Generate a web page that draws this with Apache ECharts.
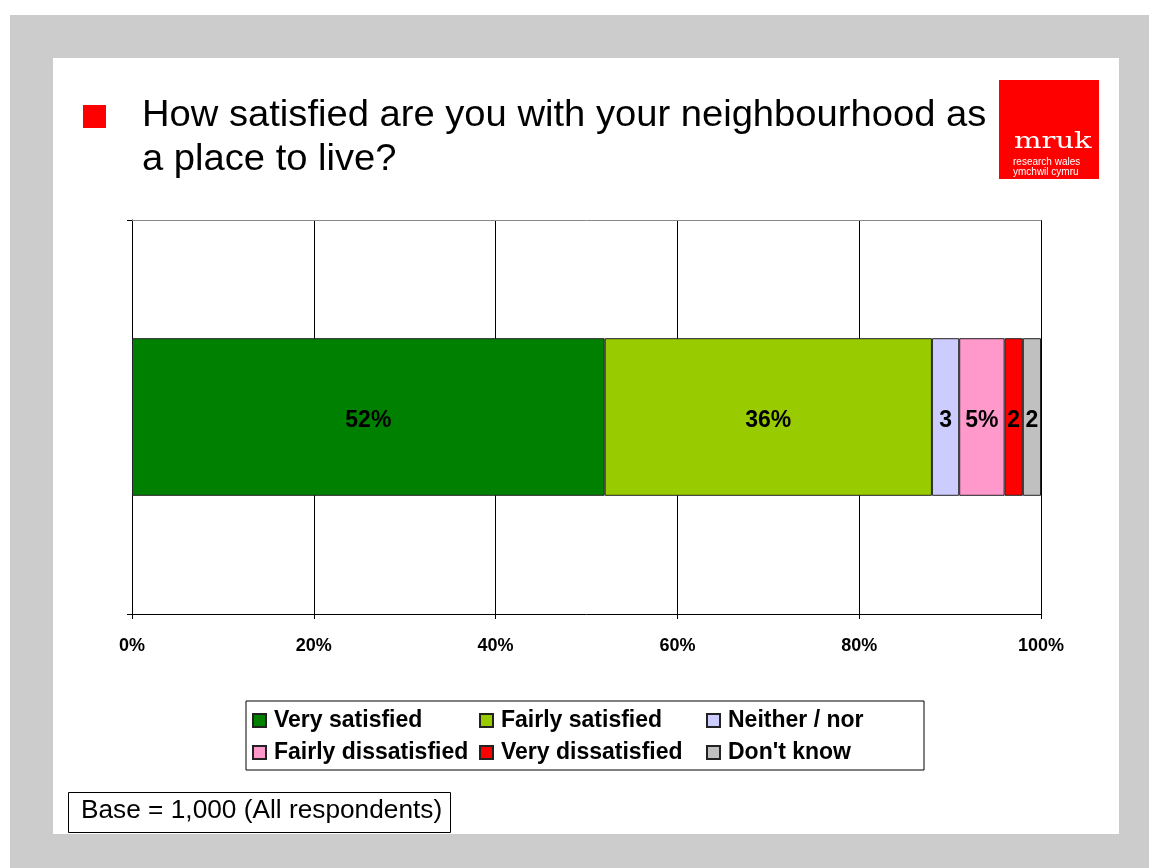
<!DOCTYPE html>
<html>
<head>
<meta charset="utf-8">
<title>Neighbourhood satisfaction</title>
<script src="https://cdn.jsdelivr.net/npm/echarts@6/dist/echarts.min.js"></script>
<style>
  html, body { margin: 0; padding: 0; background: #ffffff; }
  #chart { width: 1149px; height: 868px; }
</style>
</head>
<body>
<div id="chart"></div>
<script>
// Survey answers, in stacking order (left to right)
const answerNames = ['Very satisfied', 'Fairly satisfied', 'Neither / nor',
                     'Fairly dissatisfied', 'Very dissatisfied', "Don't know"];
const answerShares = [52, 36, 3, 5, 2, 2];
const labelSuffixes = ['%', '%', '', '%', '', ''];
const answerColors = ['#008000', '#99CC00', '#CCCCFF', '#FF99CC', '#FF0000', '#C0C0C0'];
const categories = [''];
const axisTicks = [0, 20, 40, 60, 80, 100];

const FONT = '"Liberation Sans", Arial, sans-serif';

const series = answerNames.map((name, i) => ({
  name: name,
  type: 'bar',
  stack: 'total',
  barWidth: '40%',
  data: [answerShares[i]],
  itemStyle: { color: answerColors[i], borderColor: '#222222', borderWidth: 1 },
  label: {
    show: true,
    position: 'inside',
    offset: [0, 4],
    formatter: p => p.value + labelSuffixes[i],
    fontFamily: FONT,
    fontWeight: 'bold',
    fontSize: 23,
    color: '#000000'
  },
  emphasis: { disabled: true }
}));

const chart = echarts.init(document.getElementById('chart'), null, { renderer: 'canvas' });

chart.setOption({
  animation: false,
  backgroundColor: '#ffffff',
  graphic: [
    // grey frame and white slide panel
    { type: 'rect', z: -20, shape: { x: 10, y: 15, width: 1139, height: 853 }, style: { fill: '#CCCCCC' } },
    { type: 'rect', z: -19, shape: { x: 53, y: 58, width: 1066, height: 776 }, style: { fill: '#FFFFFF' } },
    // bullet + question
    { type: 'rect', shape: { x: 83, y: 105, width: 23, height: 23 }, style: { fill: '#FF0000' } },
    { type: 'text', x: 142, y: 94, scaleX: 1.06,
      style: { text: 'How satisfied are you with your neighbourhood as\na place to live?',
               font: '36px ' + FONT, lineHeight: 44, fill: '#000000' } },
    // logo block
    { type: 'rect', shape: { x: 999, y: 80, width: 100, height: 99 }, style: { fill: '#FF0000' } },
    { type: 'text', x: 1014, y: 131, scaleX: 1.32,
      style: { text: 'mruk', font: '22px "DejaVu Serif", "Liberation Serif", serif', fill: '#FFFFFF' } },
    { type: 'text', x: 1013, y: 157,
      style: { text: 'research wales\nymchwil cymru', font: '10px ' + FONT, lineHeight: 10, fill: '#FFFFFF' } },
    // base note
    { type: 'rect', shape: { x: 68.5, y: 792.5, width: 382, height: 40 },
      style: { fill: '#FFFFFF', stroke: '#000000', lineWidth: 1 } },
    { type: 'text', x: 81, y: 799, scaleX: 1.05,
      style: { text: 'Base = 1,000 (All respondents)', font: '25px ' + FONT, fill: '#000000' } }
  ],
  grid: { left: 132, right: 108, top: 220, bottom: 254, containLabel: false },
  legend: {
    data: answerNames,
    left: 246,
    top: 701,
    width: 680,
    orient: 'horizontal',
    padding: [8, 0, 6, 6],
    borderColor: '#000000',
    borderWidth: 1,
    backgroundColor: '#FFFFFF',
    itemWidth: 13,
    itemHeight: 13,
    itemGap: 9,
    icon: 'rect',
    selectedMode: false,
    textStyle: { fontFamily: FONT, fontWeight: 'bold', fontSize: 23, color: '#000000',
                 width: 196, lineHeight: 23, padding: [0, 0, 0, 3] }
  },
  xAxis: [{
    type: 'value',
    position: 'bottom',
    min: axisTicks[0],
    max: axisTicks[axisTicks.length - 1],
    interval: axisTicks[1] - axisTicks[0],
    axisLine: { show: true, lineStyle: { color: '#000000', width: 1 } },
    axisTick: { show: true, length: 5, lineStyle: { color: '#000000' } },
    splitLine: { show: true, lineStyle: { color: '#000000', width: 1 } },
    axisLabel: { formatter: '{value}%', fontFamily: FONT, fontWeight: 'bold', fontSize: 18,
                 color: '#000000', margin: 23 }
  }, {
    type: 'value',
    position: 'top',
    min: 0, max: 100,
    axisLine: { show: true, lineStyle: { color: '#888888', width: 1 } },
    axisTick: { show: false },
    axisLabel: { show: false },
    splitLine: { show: false }
  }],
  yAxis: {
    type: 'category',
    data: categories,
    axisLine: { show: true, lineStyle: { color: '#000000', width: 1 } },
    axisTick: { show: true, length: 5, lineStyle: { color: '#000000' } },
    axisLabel: { show: false },
    splitLine: { show: false }
  },
  series: series
});
</script>
</body>
</html>
